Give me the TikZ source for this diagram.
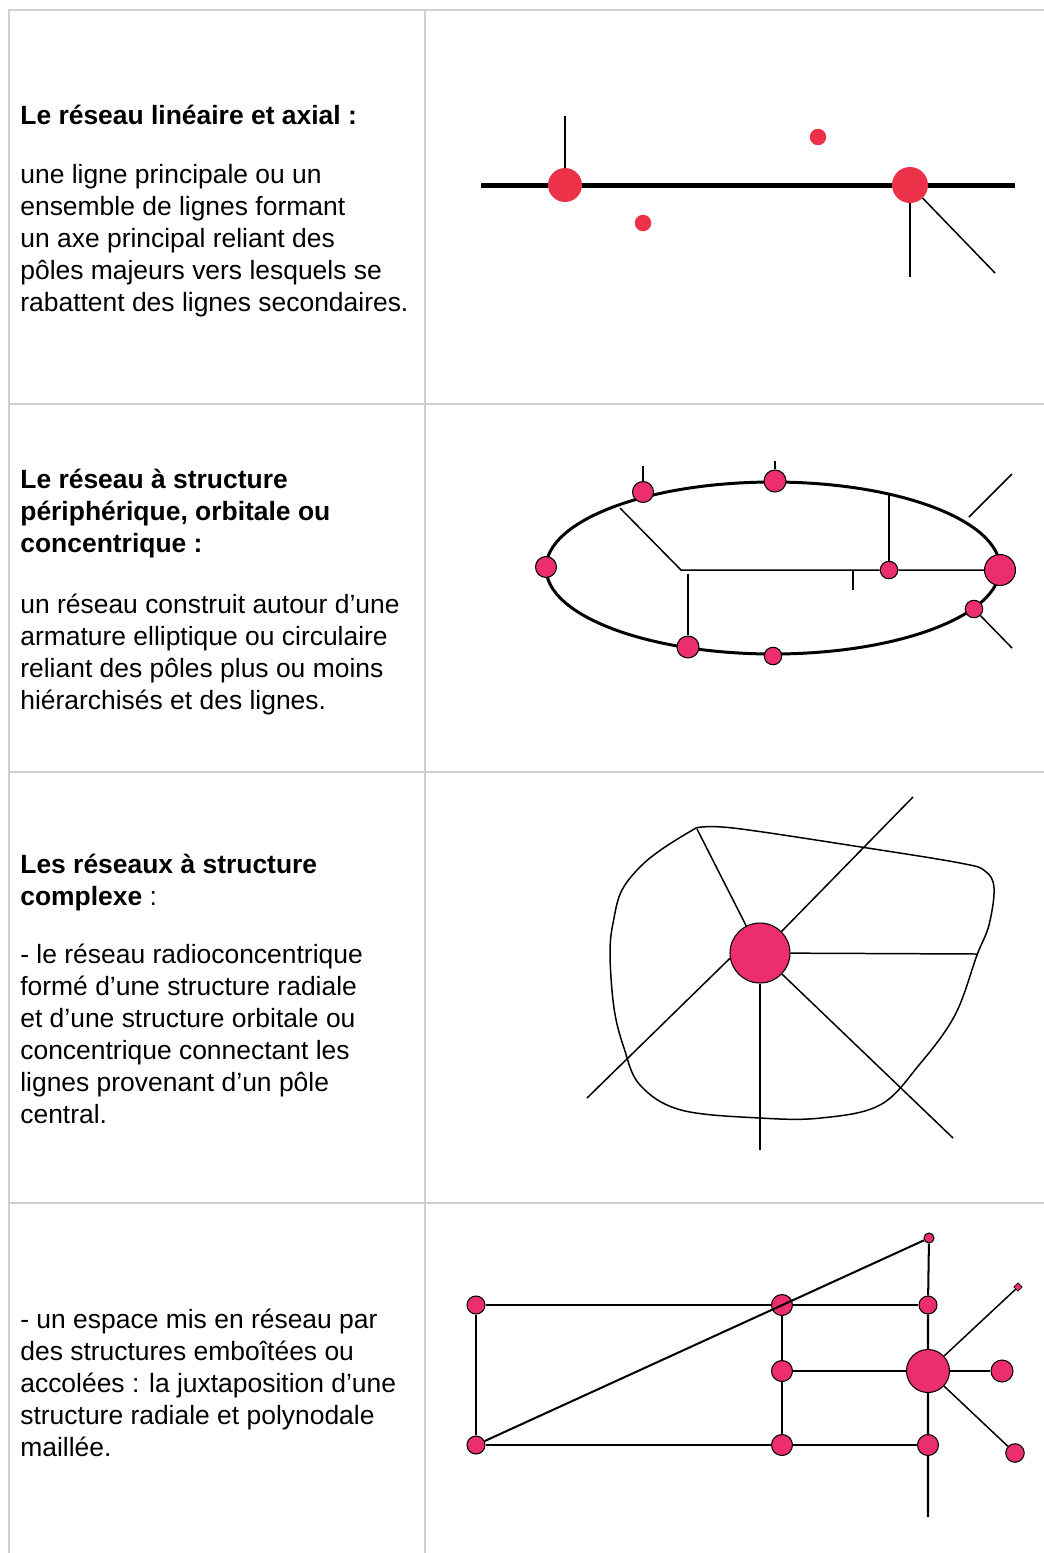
\documentclass[tikz,border=0pt]{standalone}
\usepackage{fontspec}
\setmainfont{Liberation Sans}
\usetikzlibrary{positioning,shapes.geometric}
\definecolor{grille}{RGB}{208,208,208}
\definecolor{rouge}{RGB}{236,50,72}
\definecolor{rose}{RGB}{236,46,108}
\tikzset{
  txt/.style={anchor=base west,align=left,inner sep=0pt,font=\fontsize{15.05}{18.2}\selectfont},
  titre/.style={txt,font=\fontsize{15.05}{18.2}\selectfont\bfseries},
  pole/.style={circle,fill=rouge,inner sep=0pt,minimum size=#1},
  noeud/.style={circle,fill=rose,draw=black,line width=0.6pt,inner sep=0pt,minimum size=#1},
  fin/.style={line width=0.85pt},
  trait/.style={line width=1.15pt},
}

\begin{document}
\begin{tikzpicture}[x=0.02cm,y=-0.02cm]
\useasboundingbox (0,0) rectangle (1044,1553);
% tableau
\draw[grille,line width=1.15pt] (1044,10)--(9,10)--(9,1553);
\draw[grille,line width=1.15pt] (425,10)--(425,1553);
\foreach \y in {404,772,1203} \draw[grille,line width=1.15pt] (9,\y)--(1044,\y);

% textes (ancrés sur la ligne de base de leur dernière ligne)
\node[titre] (titre1) at (20,124) {Le réseau linéaire et axial :};
\node[txt] (texte1) at (20,311) {une ligne principale ou un\\ensemble de lignes formant\\un axe principal reliant des\\pôles majeurs vers lesquels se\\rabattent des lignes secondaires.};
\node[titre] (titre2) at (20,552) {Le réseau à structure\\périphérique, orbitale ou\\concentrique :};
\node[txt] (texte2) at (20,709) {un réseau construit autour d’une\\armature elliptique ou circulaire\\reliant des pôles plus ou moins\\hiérarchisés et des lignes.};
\node[txt] (titre3) at (20,905) {\textbf{Les réseaux à structure}\\\textbf{complexe} :};
\node[txt] (texte3) at (20,1123) {- le réseau radioconcentrique\\formé d’une structure radiale\\et d’une structure orbitale ou\\concentrique connectant les\\lignes provenant d’un pôle\\central.};
\node[txt] (texte4) at (20,1456) {- un espace mis en réseau par\\des structures emboîtées ou\\accolées : la juxtaposition d’une\\structure radiale et polynodale\\maillée.};

% reseau lineaire
\node[pole=0.68cm] (p1) at (565,185) {};
\node[pole=0.72cm] (p2) at (910,185) {};
\node[pole=0.33cm] (p3) at (818,137) {};
\node[pole=0.33cm] (p4) at (643,223) {};
\coordinate (a1) at (481,185);
\coordinate (a2) at (1015,185);
\coordinate (v1) at (565,116);
\coordinate (v2) at (910,277);
\coordinate (v3) at (995,273);
\draw[line width=2.85pt] (a1)--(p1)--(p2)--(a2);
\draw[fin] (p1)--(v1);
\draw[fin] (p2)--(v2);
\draw[fin] (p2)--(v3);

% reseau orbital
\draw[line width=1.7pt] (773,568) ellipse [x radius=4.54cm,y radius=1.72cm];
\coordinate (c1) at (681,570);
\coordinate (c2) at (688,574);
\coordinate (e1) at (620,508);
\coordinate (e2) at (889,494);
\coordinate (e3) at (969,517);
\coordinate (f1) at (1012,474);
\coordinate (f2) at (1012,648);
\coordinate (k1) at (853,570);
\coordinate (k2) at (853,590);
\coordinate (h1) at (643,466);
\coordinate (h2) at (775,461);
\node[noeud=0.42cm] (o1) at (643,492) {};
\node[noeud=0.44cm] (o2) at (775,481) {};
\node[noeud=0.42cm] (o3) at (546,567) {};
\node[noeud=0.62cm] (o4) at (1000,570) {};
\node[noeud=0.35cm] (o5) at (889,570) {};
\node[noeud=0.35cm] (o6) at (974,609) {};
\node[noeud=0.44cm] (o7) at (688,647) {};
\node[noeud=0.35cm] (o8) at (773,656) {};
\draw[fin] (o1)--(h1);
\draw[fin] (o2)--(h2);
\draw[fin] (e1)--(c1)--(o5)--(o4);
\draw[fin] (c2)--(o7);
\draw[fin] (k1)--(k2);
\draw[trait] (o5)--(e2);
\draw[fin] (e3)--(f1);
\draw[fin] (o6)--(f2);

% reseau radioconcentrique
\draw[fin] plot[smooth,tension=0.6] coordinates {(696,828) (733,828) (861,847) (960,863) (985,871) (994,888) (989,925) (977,955) (955,1015) (919,1065) (880,1105) (821,1118) (760,1118) (681,1110) (640,1085) (624,1048) (614,1008) (610,952) (614,918) (622,890) (641,866) (665,847) (696,828)};
\node[noeud=1.2cm] (c) at (760,953) {};
\coordinate (r1) at (697,829);
\coordinate (r2) at (913,797);
\coordinate (r3) at (977,954);
\coordinate (r4) at (760,1150);
\coordinate (r5) at (953,1138);
\coordinate (r6) at (587,1098);
\draw[fin] (c)--(r1);
\draw[fin] (c.45)--(r2);
\draw[fin] (c)--(r3);
\draw[fin] (c)--(r4);
\draw[fin] (c)--(r5);
\draw[fin] (c.190)--(r6);

% reseau maille
\node[noeud=0.36cm] (A) at (476,1305) {};
\node[noeud=0.36cm] (B) at (476,1445) {};
\node[noeud=0.42cm] (C) at (782,1305) {};
\node[noeud=0.42cm] (D) at (782,1371) {};
\node[noeud=0.42cm] (E) at (782,1445) {};
\node[noeud=0.36cm] (F) at (928,1305) {};
\node[noeud=0.86cm] (G) at (928,1371) {};
\node[noeud=0.42cm] (H) at (928,1445) {};
\node[noeud=0.2cm] (I) at (929,1238) {};
\node[diamond,fill=rose,draw=black,line width=0.4pt,inner sep=0pt,minimum size=0.17cm] (J) at (1018,1287) {};
\node[noeud=0.44cm] (K) at (1002,1371) {};
\node[noeud=0.37cm] (L) at (1015,1453) {};
\coordinate (bas) at (928,1517);
\draw[trait] (A)--(C)--(F);
\draw[trait] (A)--(B)--(E)--(H);
\draw[trait] (C)--(D)--(E);
\draw[trait] (I)--(F)--(G)--(H)--(bas);
\draw[trait] (D)--(G)--(K);
\draw[trait] (B)--(I);
\draw[fin] (G)--(J);
\draw[fin] (G)--(L);
\end{tikzpicture}
\end{document}
